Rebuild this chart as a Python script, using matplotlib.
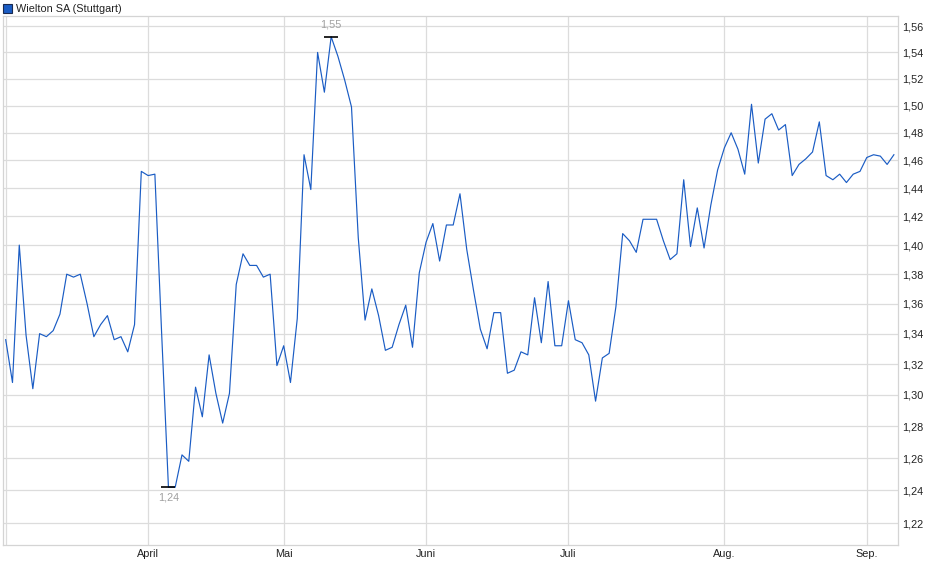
import pandas as pd
import matplotlib.pyplot as plt
from matplotlib.ticker import FixedLocator, NullLocator, FuncFormatter
from matplotlib.patches import Rectangle

plt.rcParams['font.family'] = ['Liberation Sans', 'DejaVu Sans']

# Handelstage Stuttgart (Mär - Sep 2025, ohne Feiertage)
feiertage = ['2025-04-18', '2025-04-21', '2025-05-01']
dates = pd.bdate_range('2025-03-03', '2025-09-05')
dates = dates[~dates.isin(pd.to_datetime(feiertage))]

# Schlusskurse in EUR
kurse = [
    1.336, 1.308, 1.400, 1.339, 1.304, 1.340, 1.338, 1.342, 1.353, 1.380,
    1.378, 1.380, 1.360, 1.338, 1.346, 1.352, 1.336, 1.338, 1.328, 1.346,
    1.452, 1.449, 1.450, 1.340, 1.242, 1.242, 1.262, 1.258, 1.305, 1.286,
    1.326, 1.301, 1.282, 1.301, 1.373, 1.394, 1.386, 1.386, 1.378, 1.380,
    1.319, 1.332, 1.308, 1.350, 1.464, 1.439, 1.540, 1.510, 1.552, 1.537,
    1.519, 1.499, 1.405, 1.349, 1.370, 1.352, 1.329, 1.331, 1.346, 1.359,
    1.331, 1.381, 1.402, 1.415, 1.389, 1.414, 1.414, 1.436, 1.397, 1.369,
    1.343, 1.330, 1.354, 1.354, 1.314, 1.316, 1.328, 1.326, 1.364, 1.334,
    1.375, 1.332, 1.332, 1.362, 1.336, 1.334, 1.326, 1.296, 1.324, 1.327,
    1.358, 1.408, 1.403, 1.395, 1.418, 1.418, 1.418, 1.403, 1.390, 1.394,
    1.446, 1.399, 1.426, 1.398, 1.428, 1.453, 1.469, 1.480, 1.468, 1.450,
    1.501, 1.458, 1.490, 1.494, 1.482, 1.486, 1.449, 1.457, 1.461, 1.466,
    1.488, 1.449, 1.446, 1.450, 1.444, 1.450, 1.452, 1.462, 1.464, 1.463,
    1.457, 1.464,
]

monate = {4: 'April', 5: 'Mai', 6: 'Juni', 7: 'Juli', 8: 'Aug.', 9: 'Sep.'}
y_ticks = [1.22, 1.24, 1.26, 1.28, 1.30, 1.32, 1.34, 1.36, 1.38, 1.40,
           1.42, 1.44, 1.46, 1.48, 1.50, 1.52, 1.54, 1.56]

df = pd.DataFrame({'datum': dates, 'kurs': kurse})
df['i'] = range(len(df))

# erster Handelstag je Monat -> Gitterlinie
erste = df.groupby(df.datum.dt.month).i.min()

fig = plt.figure(figsize=(9.4, 5.79), dpi=100)
ax = fig.add_axes([3 / 940, 1 - 545.3 / 579, 895.3 / 940, 529.3 / 579])

ax.plot(df.i, df.kurs, color='#1a5cc4', lw=0.85, zorder=3)

ax.set_yscale('log')
ax.set_xlim(-0.4, 131.65)
ax.set_ylim(1.2068, 1.568)

ax.yaxis.set_major_locator(FixedLocator(y_ticks))
ax.yaxis.set_minor_locator(NullLocator())
ax.yaxis.set_major_formatter(FuncFormatter(lambda v, p: f'{v:.2f}'.replace('.', ',')))
ax.yaxis.tick_right()

ax.set_xticks(list(erste.values))
ax.set_xticklabels([monate.get(m, '') for m in erste.index])

ax.tick_params(axis='both', length=0, labelsize=7.8, colors='#222222')
ax.tick_params(axis='y', pad=3)
ax.tick_params(axis='x', pad=3)

ax.grid(True, color='#dcdcdc', lw=0.9, zorder=0)
for s in ax.spines.values():
    s.set_color('#d4d4d4')
    s.set_linewidth(0.9)

# Hoch / Tief markieren
hi = df.kurs.idxmax()
lo = df.kurs.idxmin()
for idx, dy, va in [(hi, 5, 'bottom'), (lo, -4, 'top')]:
    ax.plot(df.i[idx], df.kurs[idx], marker='_', ms=10, mew=1.2,
            color='black', zorder=4)
    ax.annotate(f'{df.kurs[idx]:.2f}'.replace('.', ','),
                (df.i[idx], df.kurs[idx]),
                xytext=(0, dy), textcoords='offset points',
                ha='center', va=va, fontsize=7.8, color='#a0a0a0')

# Legende oben links
fig.patches.append(Rectangle((3 / 940, 1 - 13 / 579), 9 / 940, 9 / 579,
                             transform=fig.transFigure, facecolor='#1a5cc4',
                             edgecolor='#1a2a50', lw=0.8))
fig.text(16 / 940, 1 - 8.5 / 579, 'Wielton SA (Stuttgart)', fontsize=7.8,
         color='#222222', va='center', ha='left')

fig.savefig('out.png', dpi=100)
